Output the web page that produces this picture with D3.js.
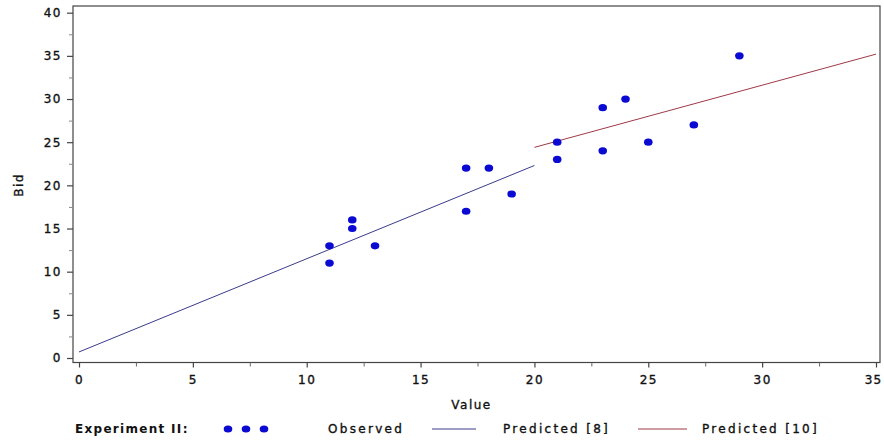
<!DOCTYPE html>
<html><head><meta charset="utf-8">
<script src="https://cdn.jsdelivr.net/npm/d3@7"></script>
<style>
body{margin:0;background:#fff;}
svg{display:block;}
text{font-family:"DejaVu Sans",sans-serif;fill:#111;}
</style></head>
<body><svg id="chart" width="884" height="442"></svg>
<script>
// Observed data (Experiment II)
const obsValue = [11, 11, 12, 12, 13, 17, 17, 18, 19, 21, 21, 23, 23, 24, 25, 27, 29];
const obsBid   = [13, 11, 16, 15, 13, 22, 17, 22, 19, 25, 23, 29, 24, 30, 25, 27, 35];
// Predicted lines (endpoints)
const pred8Value  = [0, 20];
const pred8Bid    = [0.7, 22.3];
const pred10Value = [20, 35];
const pred10Bid   = [24.4, 35.2];
// Ticks
const xTicks = [0, 5, 10, 15, 20, 25, 30, 35];
const xMinor = [2.5, 7.5, 12.5, 17.5, 22.5, 27.5, 32.5];
const yTicks = [0, 5, 10, 15, 20, 25, 30, 35, 40];
const yMinor = [2.5, 7.5, 12.5, 17.5, 22.5, 27.5, 32.5, 37.5];

const svg = d3.select("#chart");
const frame = {l:73, r:880, t:6, b:362.5};
const x = d3.scaleLinear().domain([0,35]).range([79,876]);
const y = d3.scaleLinear().domain([0,40]).range([358,12.7]);

const fs = "12px", ls = "1.5px";
const txt = sel => sel.style("font-size",fs).style("letter-spacing",ls)
  .attr("fill","#111").attr("stroke","#111").attr("stroke-width",0.35);

// frame
svg.append("rect").attr("x",frame.l).attr("y",frame.t)
  .attr("width",frame.r-frame.l).attr("height",frame.b-frame.t)
  .attr("fill","none").attr("stroke","#444").attr("stroke-width",1.2);

// x axis
const gx = svg.append("g").attr("transform",`translate(0,${frame.b})`)
  .call(d3.axisBottom(x).tickValues(xTicks).tickSize(5).tickPadding(8).tickFormat(d3.format("d")));
gx.select(".domain").remove();
gx.selectAll("line").attr("stroke","#444").attr("stroke-width",1.2);
txt(gx.selectAll("text"));
gx.selectAll("text").filter(d=>d===35).attr("dx",-3).style("letter-spacing","1px");
const gxm = svg.append("g").attr("transform",`translate(0,${frame.b})`)
  .call(d3.axisBottom(x).tickValues(xMinor).tickSize(4).tickFormat(""));
gxm.select(".domain").remove();
gxm.selectAll("line").attr("stroke","#666");

// y axis
const gy = svg.append("g").attr("transform",`translate(${frame.l},0)`)
  .call(d3.axisLeft(y).tickValues(yTicks).tickSize(6).tickPadding(5).tickFormat(d3.format("d")));
gy.select(".domain").remove();
gy.selectAll("line").attr("stroke","#444").attr("stroke-width",1.2);
txt(gy.selectAll("text"));
const gym = svg.append("g").attr("transform",`translate(${frame.l},0)`)
  .call(d3.axisLeft(y).tickValues(yMinor).tickSize(4).tickFormat(""));
gym.select(".domain").remove();
gym.selectAll("line").attr("stroke","#888");

// axis titles
txt(svg.append("text").attr("x",(x(0)+x(35))/2 - 6).attr("y",409).attr("text-anchor","middle").text("Value"));
txt(svg.append("text").attr("transform","translate(23,185) rotate(-90)").attr("text-anchor","middle").text("Bid"));

// predicted lines
const line = d3.line().x(d=>x(d[0])).y(d=>y(d[1]));
svg.append("path").datum(d3.zip(pred8Value,pred8Bid)).attr("d",line)
  .attr("fill","none").attr("stroke","#3a3a8c").attr("stroke-width",1);
svg.append("path").datum(d3.zip(pred10Value,pred10Bid)).attr("d",line)
  .attr("fill","none").attr("stroke","#a03848").attr("stroke-width",1);

// observed points
svg.append("g").selectAll("ellipse").data(d3.zip(obsValue,obsBid)).join("ellipse")
  .attr("cx",d=>x(d[0])).attr("cy",d=>y(d[1])).attr("rx",4.3).attr("ry",3.6)
  .attr("fill","#0a0ad2");

// legend
const ly = 433;
svg.append("text").attr("x",75).attr("y",ly).style("font-size",fs).style("letter-spacing","1.3px")
  .style("font-weight","bold").text("Experiment II:");
[228,246,264].forEach(cx=>svg.append("ellipse").attr("cx",cx).attr("cy",ly-4).attr("rx",4.3).attr("ry",3.6).attr("fill","#0a0ad2"));
const lt = (xp, s) => txt(svg.append("text").attr("x",xp).attr("y",ly).text(s)).style("letter-spacing","2.3px");
lt(328, "Observed");
svg.append("line").attr("x1",432).attr("x2",476).attr("y1",ly-4).attr("y2",ly-4).attr("stroke","#3a3a8c");
lt(503, "Predicted [8]");
svg.append("line").attr("x1",638).attr("x2",687).attr("y1",ly-4).attr("y2",ly-4).attr("stroke","#a03848");
lt(702, "Predicted [10]");
</script></body></html>
